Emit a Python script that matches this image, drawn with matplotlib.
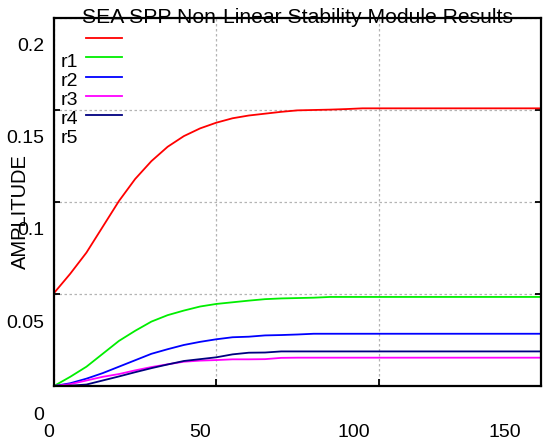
import matplotlib
matplotlib.use("Agg")
import matplotlib.pyplot as plt
import matplotlib.transforms as mtransforms

plt.rcParams['font.family'] = ['Liberation Sans', 'DejaVu Sans']

# time axis shared by all runs
t = [0, 5, 10, 15, 20, 25, 30, 35, 40, 45, 50, 55, 60, 65, 70, 75, 80, 85, 90, 95, 100, 150]

r1 = [0.0505, 0.061, 0.0725, 0.0865, 0.1005, 0.1125, 0.1222, 0.1300, 0.1358, 0.1400, 0.1431,
      0.1455, 0.1470, 0.1480, 0.1490, 0.1498, 0.1500, 0.1502, 0.1505, 0.1509, 0.1509, 0.1509]
r2 = [0.0, 0.0050, 0.0105, 0.0175, 0.0245, 0.0300, 0.0350, 0.0385, 0.0410, 0.0432, 0.0446,
      0.0455, 0.0464, 0.0472, 0.0476, 0.0478, 0.0480, 0.0484, 0.0484, 0.0484, 0.0484, 0.0484]
r3 = [0.0, 0.0015, 0.0040, 0.0070, 0.0105, 0.0140, 0.0175, 0.0200, 0.0223, 0.0240, 0.0254,
      0.0265, 0.0268, 0.0275, 0.0277, 0.0280, 0.0284, 0.0284, 0.0284, 0.0284, 0.0284, 0.0284]
r4 = [0.0, 0.0010, 0.0030, 0.0050, 0.0065, 0.0085, 0.0103, 0.0118, 0.0132, 0.0138, 0.0141,
      0.0145, 0.0145, 0.0146, 0.0153, 0.0154, 0.0154, 0.0154, 0.0154, 0.0154, 0.0154, 0.0154]
r5 = [0.0, 0.0002, 0.0008, 0.0030, 0.0052, 0.0075, 0.0097, 0.0117, 0.0136, 0.0146, 0.0156,
      0.0172, 0.0181, 0.0182, 0.0188, 0.0188, 0.0188, 0.0188, 0.0188, 0.0188, 0.0188, 0.0188]

runs = [r1, r2, r3, r4, r5]
names = ['r1', 'r2', 'r3', 'r4', 'r5']
colors = ['#ff0000', '#00ee00', '#0000ff', '#ff00ff', '#000080']

xticks = [0, 50, 100, 150]
yticks = [0, 0.05, 0.1, 0.15, 0.2]
ytick_labels = ['0', '0.05', '0.1', '0.15', '0.2']

fig = plt.figure(figsize=(5.6, 4.44), dpi=100)
ax = fig.add_axes([0.0964, 0.1306, 0.8696, 0.8289])

for run, c in zip(runs, colors):
    ax.plot(t, run, color=c, lw=1.3)

ax.set_xlim(0, 150)
ax.set_ylim(0, 0.2)
ax.set_xticks(xticks)
ax.set_xticklabels([str(v) for v in xticks])
ax.set_yticks(yticks)
ax.set_yticklabels(ytick_labels)
ax.grid(True, color='#b4b4b4', linestyle=(0, (2, 2)), lw=0.9)

for s in ax.spines.values():
    s.set_linewidth(1.6)
ax.tick_params(axis='both', direction='in', labelsize=14, width=1.3)
ax.tick_params(axis='y', length=4, right=True, pad=7)
ax.tick_params(axis='x', length=5, pad=27)

# the labels sit below their ticks in the original
for lab in ax.get_yticklabels():
    lab.set_transform(lab.get_transform() +
                      mtransforms.ScaledTranslation(0, -0.27, fig.dpi_scale_trans))
for lab, dx in zip(ax.get_xticklabels(), [-5, -16, -25, -36]):
    lab.set_transform(lab.get_transform() +
                      mtransforms.ScaledTranslation(dx / 100, 0, fig.dpi_scale_trans))

ax.set_ylabel('AMPLITUDE', fontsize=14.5, va='center', ha='center')
ax.yaxis.set_label_coords(-0.068, 0.475)

ax.text(0.5, 1.0, 'SEA SPP Non-Linear Stability Module Results', transform=ax.transAxes,
        ha='center', va='center', fontsize=15.2)

# legend drawn by hand: keys and names are offset by one row
for i, c in enumerate(colors):
    y = 0.9457 - i * 0.0524
    ax.plot([0.0657, 0.1396], [y, y], color=c, lw=1.3, transform=ax.transAxes, clip_on=False)
for i, n in enumerate(names):
    ax.text(0.0144, 0.880 - i * 0.0516, n, transform=ax.transAxes, ha='left', va='center', fontsize=14)

fig.savefig('out.png', dpi=100)
